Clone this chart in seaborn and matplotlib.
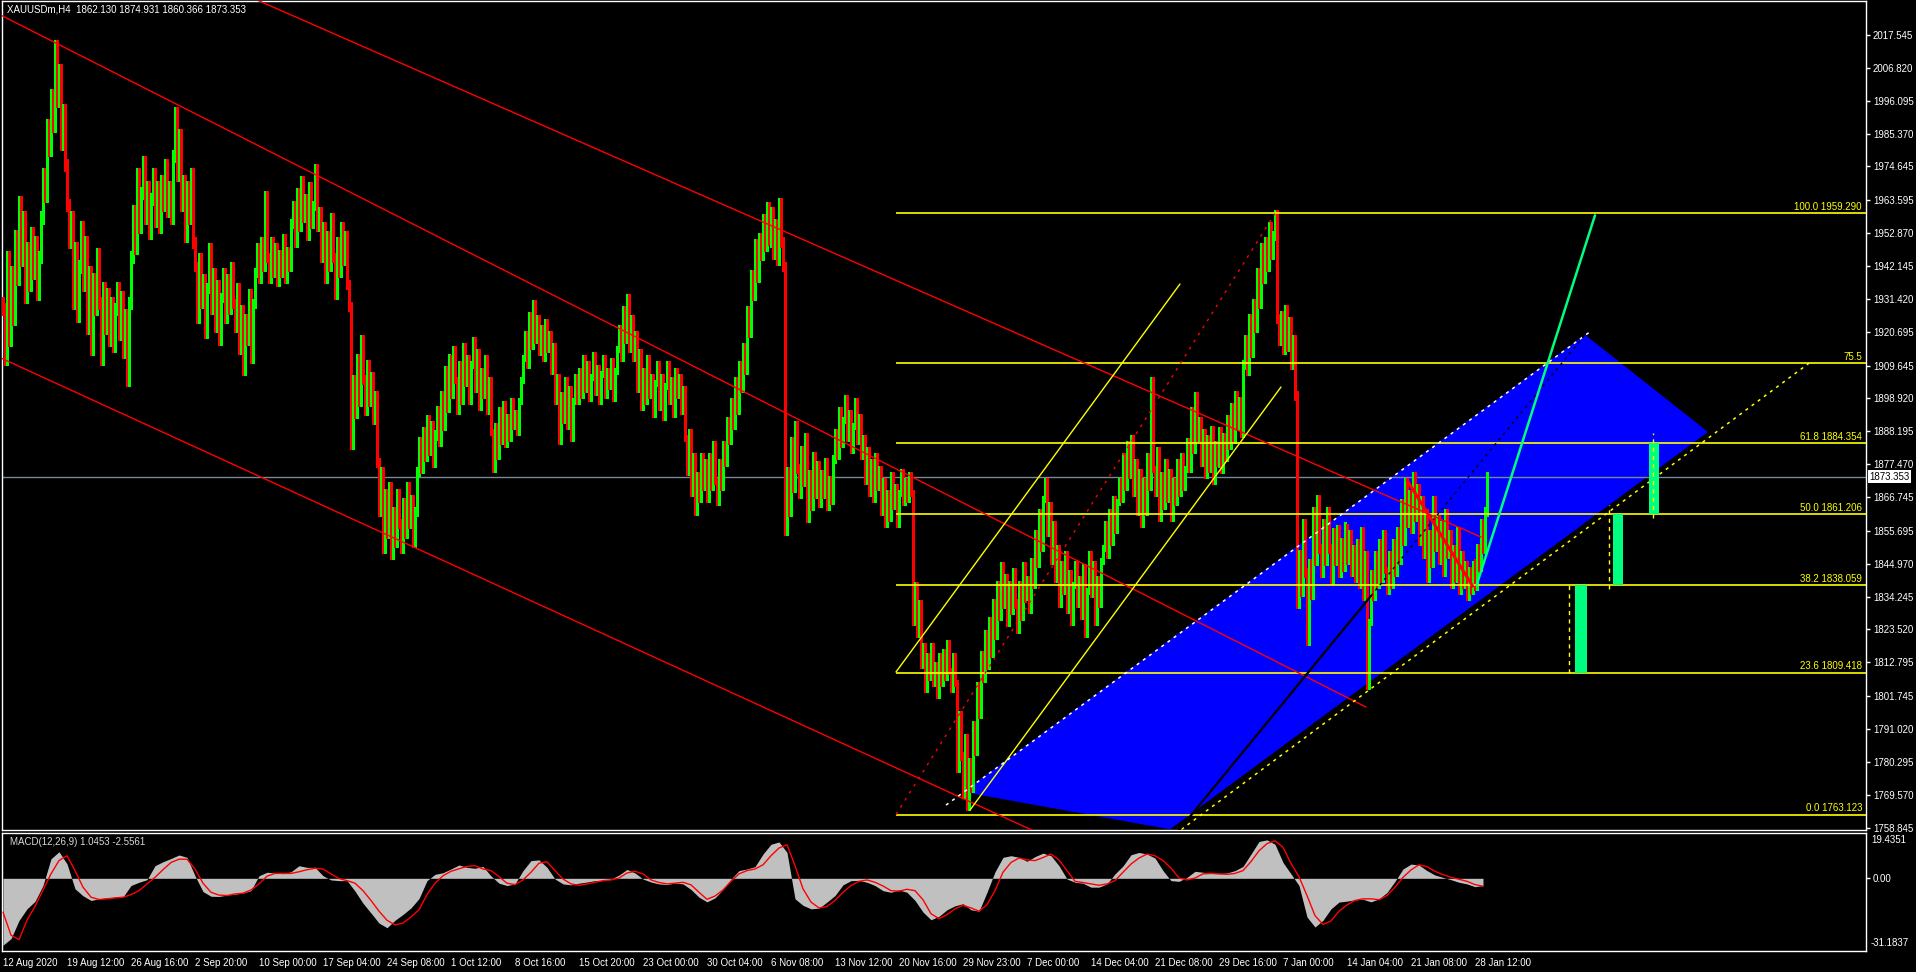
import numpy as np
import matplotlib
matplotlib.use("Agg")
import matplotlib.pyplot as plt
from matplotlib.patches import Polygon, Rectangle
import seaborn as sns

# ---------------- data ----------------
symbol_title = "XAUUSDm,H4  1862.130 1874.931 1860.366 1873.353"
macd_title = "MACD(12,26,9) 1.0453 -2.5561"
last_price = 1873.353
first_open = 1930.0

# H4 closes, one per bar (32 bars between two date labels)
closes_aug_sep = [
    1928, 1912, 1945, 1918, 1940, 1925, 1952, 1938, 1963, 1944, 1958, 1932, 1948, 1936, 1953, 1940,
    1950, 1933, 1945, 1958, 1972, 1965, 1988, 1980, 1998, 1988, 2014, 1996, 2006, 1982, 1993, 1975,
    1962, 1950, 1958, 1930, 1948, 1926, 1942, 1955, 1936, 1950, 1922, 1940, 1915, 1938, 1928, 1946,
    1930, 1912, 1935, 1922, 1933, 1918, 1930, 1916, 1928, 1935, 1920, 1932, 1914, 1926, 1905, 1930,
    1945, 1960, 1948, 1972, 1955, 1966, 1976, 1958, 1968, 1953, 1964, 1972, 1957, 1968, 1955, 1970,
    1962, 1975, 1960, 1968, 1958, 1978, 1992, 1972, 1985, 1962, 1970, 1952, 1968, 1958, 1972, 1950,
    1942, 1925, 1945, 1930, 1938, 1920, 1935, 1948, 1928, 1940, 1922, 1936, 1918, 1932, 1940, 1925,
    1938, 1928, 1942, 1930, 1922, 1935, 1915, 1928, 1908, 1925, 1918, 1933, 1912, 1930, 1940, 1948,
]
closes_sep_oct = [
    1938, 1950, 1942, 1965, 1945, 1938, 1950, 1940, 1948, 1937, 1946, 1940, 1951, 1938, 1947, 1942,
    1956, 1962, 1950, 1966, 1955, 1970, 1958, 1964, 1952, 1968, 1956, 1962, 1974, 1955, 1960, 1945,
    1955, 1938, 1952, 1942, 1958, 1945, 1933, 1950, 1940, 1955, 1944, 1952, 1936, 1929, 1884, 1905,
    1894, 1912, 1898, 1918, 1905, 1895, 1910, 1898, 1906, 1892, 1900, 1878, 1862, 1875, 1850, 1868,
    1855, 1870, 1848, 1862, 1852, 1868, 1858, 1850, 1865, 1855, 1870, 1858, 1866, 1852, 1862, 1875,
    1885, 1876, 1888, 1880, 1892, 1882, 1890, 1878, 1887, 1895, 1885, 1900, 1890, 1908, 1896, 1912,
    1900, 1915, 1905, 1895, 1910, 1898, 1916, 1904, 1912, 1898, 1910, 1918, 1902, 1914, 1896, 1908,
    1900, 1912, 1895, 1905, 1888, 1876, 1890, 1880, 1895, 1885, 1897, 1884, 1893, 1886, 1898, 1890,
]
closes_oct_nov = [
    1894, 1888, 1898, 1905, 1912, 1920, 1910, 1926, 1916, 1930, 1918, 1925, 1914, 1922, 1912, 1924,
    1915, 1920, 1908, 1916, 1898, 1906, 1885, 1900, 1892, 1905, 1890, 1902, 1886, 1898, 1906, 1898,
    1908, 1900, 1912, 1902, 1910, 1899, 1906, 1913, 1901, 1909, 1898, 1907, 1912, 1900, 1908, 1903,
    1911, 1899, 1908, 1915, 1922, 1912, 1928, 1918, 1932, 1915, 1925, 1912, 1920, 1902, 1914, 1896,
    1908, 1898, 1912, 1900, 1906, 1894, 1904, 1910, 1896, 1906, 1893, 1903, 1910, 1898, 1905, 1894,
    1908, 1900, 1906, 1895, 1902, 1886, 1875, 1888, 1868, 1880, 1862, 1874, 1866, 1880, 1870, 1878,
    1866, 1880, 1870, 1884, 1872, 1865, 1878, 1870, 1884, 1878, 1892, 1885, 1898, 1890, 1905, 1895,
    1910, 1902, 1916, 1908, 1928, 1920, 1940, 1932, 1950, 1938, 1952, 1945, 1958, 1948, 1962, 1950,
]
closes_nov_dec = [
    1960, 1946, 1956, 1944, 1963, 1950, 1942, 1856, 1875, 1862, 1885, 1870, 1890, 1876, 1868, 1882,
    1872, 1886, 1860, 1874, 1864, 1880, 1868, 1877, 1865, 1874, 1868, 1878, 1864, 1872, 1866, 1879,
    1888, 1880, 1895, 1884, 1892, 1899, 1886, 1894, 1882, 1890, 1898, 1885, 1893, 1880, 1886, 1872,
    1882, 1868, 1878, 1866, 1880, 1870, 1876, 1862, 1872, 1858, 1868, 1860, 1874, 1864, 1870, 1858,
    1868, 1875, 1865, 1872, 1866, 1874, 1868, 1826, 1838, 1822, 1832, 1812, 1818, 1804, 1815, 1808,
    1818, 1806, 1812, 1802, 1815, 1806, 1816, 1808, 1819, 1810, 1804, 1815, 1806, 1778, 1796, 1782,
    1770, 1788, 1766, 1780, 1772, 1792, 1784, 1805, 1796, 1815, 1808, 1822, 1812, 1826, 1816, 1832,
    1822, 1838, 1828, 1844, 1832, 1840, 1826, 1838, 1830, 1842, 1832, 1824, 1838, 1828, 1844, 1834,
]
closes_dec_jan = [
    1840, 1830, 1846, 1838, 1855, 1845, 1862, 1850, 1866, 1872, 1855, 1864, 1846, 1858, 1840, 1850,
    1832, 1845, 1836, 1848, 1830, 1842, 1826, 1838, 1845, 1832, 1840, 1828, 1844, 1822, 1836, 1848,
    1835, 1845, 1826, 1840, 1832, 1846, 1850, 1858, 1848, 1862, 1852, 1866, 1856, 1865, 1872, 1866,
    1880, 1870, 1884, 1874, 1886, 1868, 1878, 1862, 1875, 1858, 1872, 1862, 1880, 1870, 1905, 1876,
    1868, 1882, 1860, 1874, 1864, 1878, 1866, 1875, 1860, 1872, 1865, 1878, 1868, 1880, 1870, 1876,
    1885, 1876, 1895, 1882, 1900, 1886, 1892, 1878, 1888, 1874, 1886, 1876, 1889, 1872, 1884, 1878,
    1888, 1876, 1886, 1880, 1892, 1884, 1896, 1886, 1900, 1890, 1898, 1888, 1910, 1918, 1908, 1925,
    1914, 1930, 1922, 1940, 1930, 1948, 1938, 1950, 1942, 1955, 1946, 1952, 1959, 1925, 1918, 1926,
]
closes_jan = [
    1915, 1928, 1916, 1924, 1910, 1918, 1900, 1832, 1848, 1836, 1858, 1842, 1820, 1845, 1835, 1862,
    1846, 1866, 1850, 1842, 1858, 1846, 1862, 1850, 1840, 1855, 1846, 1856, 1842, 1852, 1844, 1857,
    1846, 1855, 1842, 1850, 1840, 1852, 1838, 1856, 1834, 1848, 1805, 1826, 1842, 1834, 1848, 1838,
    1852, 1840, 1855, 1843, 1836, 1848, 1838, 1852, 1842, 1856, 1846, 1865, 1852, 1872, 1858, 1868,
    1856, 1874, 1860, 1870, 1852, 1866, 1848, 1862, 1840, 1855, 1845, 1866, 1850, 1860, 1846, 1858,
    1842, 1862, 1848, 1855, 1838, 1850, 1840, 1856, 1836, 1848, 1838, 1845, 1834, 1843, 1836, 1845,
    1838, 1850, 1844, 1858, 1850, 1862.13, 1873.353,
]
# typical shadow (wick) length of the bars, one value per 32-bar label interval
wick_by_label = [2, 2, 2, 1.5, 1.5, 1.5, 1.5, 1, 1, 1, 1, 1,
                 1.5, 1, 1, 1.5, 1, 1, 1, 1.5, 1.5, 1, 1, 1.5]

# MACD main (histogram) and signal, one reading every 4 bars
macd_main = [
    -28.7, -25.9, -18.1, -13.1, -9.9, -3.1, 8.4, 11.4, 6.2, -4.5, -7.5, -9.5, -8.8, -8.4, -8.1, -8.0,
    -3.1, -1.7, -0.6, 5.4, 7.1, 8.5, 10.0, 9.0, 1.1, -5.7, -7.7, -7.8, -7.2, -6.8, -6.3, -5.3,
    1.1, 2.6, 2.3, 2.0, 2.8, 5.4, 4.7, 4.7, 1.1, -0.7, -1.0, -1.0, -5.5, -10.7, -14.9, -19.2,
    -21.2, -18.0, -15.5, -12.7, -8.7, -1.0, 1.7, 2.4, 4.0, 5.7, 4.7, 4.3, 5.1, 1.0, -2.1, -3.1,
    -2.4, 3.3, 7.6, 7.9, 4.7, -0.3, -2.4, -2.8, -2.1, -1.6, -1.0, -1.0, -0.3, 1.4, 3.8, 2.3,
    -0.3, -1.6, -2.4, -2.7, -2.0, -2.4, -4.8, -8.1, -10.1, -8.4, -4.8, -0.4, 3.3, 4.0, 5.0, 10.4,
    14.6, 15.6, 11.1, -8.8, -11.6, -13.1, -12.8, -10.2, -7.4, -2.8, -1.0, -0.9, -1.7, -3.1, -5.3, -6.0,
    -5.0, -6.0, -9.5, -14.5, -17.8, -16.3, -13.5, -11.8, -10.9, -13.5, -14.1, -6.0, 2.8, 9.0, 9.7, 9.0,
    7.3, 9.3, 10.8, 9.7, 5.4, -0.3, -1.7, -2.1, -3.8, -3.8, -2.4, 1.9, 5.3, 10.1, 11.1, 10.4,
    8.7, 3.3, -1.0, -1.3, 0.4, 3.0, 2.6, 2.1, 2.0, 2.3, 3.3, 5.1, 10.4, 15.8, 16.5, 14.6,
    6.8, 1.9, -3.1, -16.6, -20.9, -18.0, -13.1, -10.2, -9.8, -9.2, -9.0, -10.1, -8.8, -6.1, -1.3, 4.0,
    6.1, 5.7, 3.3, 1.4, 0.4, -0.6, -1.7, -2.4, -3.6, -3.1,
]
macd_signal = [
    -14.5, -24.4, -26.3, -18.0, -12.0, -5.0, 1.9, 7.6, 9.7, 3.3, -3.8, -8.1, -9.1, -8.8, -8.4, -8.1,
    -7.0, -5.3, -2.4, 0.4, 3.7, 6.8, 8.2, 8.2, 4.0, -2.1, -6.0, -7.2, -7.4, -6.7, -6.4, -5.0,
    -2.4, 0.9, 2.1, 2.1, 2.1, 2.8, 3.7, 4.3, 4.0, 1.9, -0.1, -1.0, -2.1, -5.3, -9.5, -14.1,
    -18.0, -20.0, -19.2, -16.6, -13.5, -7.0, -2.1, 1.1, 3.0, 4.1, 5.1, 5.4, 4.0, 3.3, 0.7, -2.1,
    -2.7, -0.7, 2.6, 6.5, 7.1, 3.3, -0.3, -2.4, -3.0, -2.4, -1.7, -1.0, -0.7, 0.1, 2.3, 3.0,
    1.9, -0.7, -1.8, -2.4, -2.1, -1.7, -2.8, -6.0, -9.0, -7.6, -5.0, -1.3, 1.9, 3.3, 4.0, 5.8,
    9.7, 13.0, 14.4, 5.4, -4.5, -10.2, -12.7, -12.1, -9.5, -6.0, -3.1, -1.3, -0.7, -1.7, -3.3, -5.3,
    -5.5, -4.7, -5.3, -9.2, -15.2, -17.3, -15.6, -13.1, -11.6, -12.7, -14.1, -11.3, -5.3, 2.6, 6.8, 8.7,
    7.9, 7.6, 8.9, 10.4, 7.9, 3.3, -1.3, -1.8, -2.4, -3.0, -2.4, -1.0, 2.6, 6.1, 8.7, 10.4,
    9.7, 7.6, 4.4, 0.1, -0.7, 0.1, 1.9, 2.1, 1.9, 1.7, 2.1, 3.3, 7.2, 11.8, 14.9, 16.1,
    13.3, 6.4, 0.7, -7.4, -16.0, -19.8, -18.3, -14.1, -11.4, -9.5, -8.8, -8.8, -9.2, -7.4, -3.8, 0.4,
    3.6, 5.8, 5.0, 3.0, 1.6, 0.4, -0.4, -1.3, -2.7, -3.4,
]
macd_top, macd_bottom = 19.4351, -31.1837

price_ticks = [2017.545, 2006.820, 1996.095, 1985.370, 1974.645, 1963.595, 1952.870, 1942.145,
               1931.420, 1920.695, 1909.645, 1898.920, 1888.195, 1877.470, 1866.745, 1855.695,
               1844.970, 1834.245, 1823.520, 1812.795, 1801.745, 1791.020, 1780.295, 1769.570,
               1758.845]
date_labels = ["12 Aug 2020", "19 Aug 12:00", "26 Aug 16:00", "2 Sep 20:00", "10 Sep 00:00",
               "17 Sep 04:00", "24 Sep 08:00", "1 Oct 12:00", "8 Oct 16:00", "15 Oct 20:00",
               "23 Oct 00:00", "30 Oct 04:00", "6 Nov 08:00", "13 Nov 12:00", "20 Nov 16:00",
               "29 Nov 23:00", "7 Dec 00:00", "14 Dec 04:00", "21 Dec 08:00", "29 Dec 16:00",
               "7 Jan 00:00", "14 Jan 04:00", "21 Jan 08:00", "28 Jan 12:00"]
bars_per_label = 32

# Fibonacci retracement (anchor bar, level prices)
fib_start_bar = 446.5
fib_top_bar = 636
fib_prices = [1763.123, 1809.418, 1838.059, 1861.206, 1884.354, 1910.4, 1959.290]
fib_labels = ["0.0 1763.123", "23.6 1809.418", "38.2 1838.059", "50.0 1861.206",
              "61.8 1884.354", "75.5", "100.0 1959.290"]

# trend lines: (bar, price) anchors
red_upper = [(100, 2036.7), (739, 1853.7)]
red_middle = [(-1, 2024.0), (681.5, 1798.2)]
red_lower = [(-1, 1912.1), (522, 1755.8)]
red_recent = [(702, 1872.3), (734.8, 1837.7)]
yellow_upper = [(446.5, 1809.65), (588.5, 1936.28)]
yellow_lower = [(483.5, 1764.6), (639, 1902.66)]
yellow_dotted = [(580, 1753.8), (905, 1911.4)]
white_dotted = [(471.5, 1766.2), (793.5, 1920.7)]
black_solid = [(586, 1756.5), (684, 1834.5)]
black_dotted = [(684, 1834.5), (791, 1919.7)]
green_target = [(736.8, 1838.0), (796, 1958.7)]
blue_zone = [(480, 1770.5), (791, 1919.7), (852.5, 1888.0), (583.5, 1758.3)]
green_boxes = [(786.0, 791.8, 1809.418, 1838.059), (805.2, 809.8, 1838.059, 1861.206),
               (823.2, 828.0, 1861.206, 1884.354)]
dashed_marks = [(783.2, 1809.4, 1838.0), (803.2, 1836.8, 1864.3), (825.2, 1859.9, 1887.6)]

# ---------------- drawing ----------------
sns.set_style("dark", {"axes.facecolor": "black", "figure.facecolor": "black"})
plt.rcParams["font.family"] = ["Liberation Sans", "DejaVu Sans"]

W, H = 1916, 972
fig = plt.figure(figsize=(W / 100, H / 100), dpi=100, facecolor="black")
ax = fig.add_axes([2 / W, 1 - 830 / H, 1864 / W, 829 / H])
ax2 = fig.add_axes([2 / W, 1 - 951 / H, 1864 / W, 118 / H])
for a in (ax, ax2):
    a.set_facecolor("black")
    a.grid(False)
    for s in a.spines.values():
        s.set_color("white")
        s.set_linewidth(1)
    a.set_xlim(-0.5, 931.5)

closes = np.array(closes_aug_sep + closes_sep_oct + closes_oct_nov + closes_nov_dec
                  + closes_dec_jan + closes_jan, dtype=float)
opens = np.r_[first_open, closes[:-1]]
idx = np.arange(len(closes))
wick = np.array(wick_by_label, dtype=float)[idx // bars_per_label]
highs = np.maximum(opens, closes) + wick
lows = np.minimum(opens, closes) - wick
bar_colors = np.where(closes >= opens, "#00FF00", "#FF0000")

YEL = "#FFFF00"


def seg(a, pts, **kw):
    xs, ys = zip(*pts)
    a.plot(xs, ys, **kw)


ax.add_patch(Polygon(blue_zone, closed=True, facecolor="#0000FF", edgecolor="none", zorder=1))
ax.axhline(last_price, color="#778899", lw=1, zorder=2)
ax.vlines(idx, lows, highs, colors=bar_colors, lw=0.75, antialiased=False, zorder=3)

# fibo levels and labels
ax.hlines(fib_prices, fib_start_bar, 931.5, color=YEL, lw=1.2, zorder=4)
for p, lab in zip(fib_prices, fib_labels):
    ax.annotate(lab, xy=(929.5, p), xytext=(0, 1), textcoords="offset points",
                ha="right", va="bottom", color=YEL, fontsize=7, zorder=6)
seg(ax, [(fib_start_bar, fib_prices[0]), (fib_top_bar, fib_prices[-1])],
    color="#FF0000", lw=1, ls=(0, (2, 4)), zorder=4)

seg(ax, red_upper, color="#FF0000", lw=1, zorder=4)
seg(ax, red_middle, color="#FF0000", lw=1, zorder=4)
seg(ax, red_lower, color="#FF0000", lw=1, zorder=4)
seg(ax, red_recent, color="#FF0000", lw=2.2, zorder=5)
seg(ax, yellow_upper, color=YEL, lw=1, zorder=4)
seg(ax, yellow_lower, color=YEL, lw=1, zorder=4)
seg(ax, yellow_dotted, color=YEL, lw=1.1, ls=(0, (2, 3)), zorder=4)
seg(ax, white_dotted, color="white", lw=1.1, ls=(0, (2, 3)), zorder=4)
seg(ax, black_solid, color="black", lw=1.6, zorder=4)
seg(ax, black_dotted, color="black", lw=1, ls=(0, (2, 3)), zorder=4)
seg(ax, green_target, color="#00FF7F", lw=1.8, zorder=5)

for x0, x1, p0, p1 in green_boxes:
    ax.add_patch(Rectangle((x0, p0), x1 - x0, p1 - p0, facecolor="#00FF7F",
                           edgecolor="none", zorder=4))
for xb, p0, p1 in dashed_marks:
    ax.plot([xb, xb], [p0, p1], color=YEL, lw=1, ls=(0, (3, 3)), zorder=5)

ax.set_ylim(1758.08, 2028.64)
ax.set_yticks(price_ticks)
ax.set_yticklabels([f"{v:.3f}" for v in price_ticks])
ax.yaxis.tick_right()
ax.tick_params(axis="y", colors="white", length=3, width=1, pad=2, labelsize=7)
ax.tick_params(axis="x", bottom=False, labelbottom=False)
ax.annotate(f"{last_price:.3f}", xy=(1.0, last_price), xycoords=("axes fraction", "data"),
            xytext=(2.5, 0), textcoords="offset points", ha="left", va="center",
            fontsize=7, color="black", annotation_clip=False,
            bbox=dict(boxstyle="square,pad=0.15", facecolor="white", edgecolor="none"))

fig.text(7 / W, 1 - 10 / H, symbol_title, color="white", fontsize=7, va="center", ha="left")

# MACD panel
macd_x = np.arange(len(macd_main)) * 4
sig_x = np.arange(len(macd_signal)) * 4
ax2.fill_between(macd_x, 0, macd_main, color="#C0C0C0", linewidth=0, zorder=2)
sns.lineplot(x=sig_x, y=macd_signal, ax=ax2, color="#FF0000", lw=1, zorder=3)
ax2.set_ylim(macd_bottom, macd_top)
ax2.set_ylabel("")
ax2.set_yticks([0.0])
ax2.set_yticklabels(["0.00"])
ax2.yaxis.tick_right()
ax2.tick_params(axis="y", colors="white", length=3, width=1, pad=2, labelsize=7)
for v, txt, va, dy in [(macd_top, "19.4351", "top", -1.5), (macd_bottom, "-31.1837", "bottom", 2.5)]:
    ax2.annotate(txt, xy=(1.0, v), xycoords=("axes fraction", "data"),
                 xytext=(3.5, dy), textcoords="offset points",
                 ha="left", va=va, fontsize=7, color="white", annotation_clip=False)
ax2.text(8 / 1864, 1 - 9 / 118, macd_title, transform=ax2.transAxes, color="#D8D8D8",
         fontsize=7, va="center", ha="left")

ax2.set_xticks(np.arange(len(date_labels)) * bars_per_label)
ax2.set_xticklabels(date_labels, ha="left")
ax2.tick_params(axis="x", colors="white", length=3, width=1, pad=2, labelsize=7)

fig.savefig("out.png", dpi=100, facecolor="black")
